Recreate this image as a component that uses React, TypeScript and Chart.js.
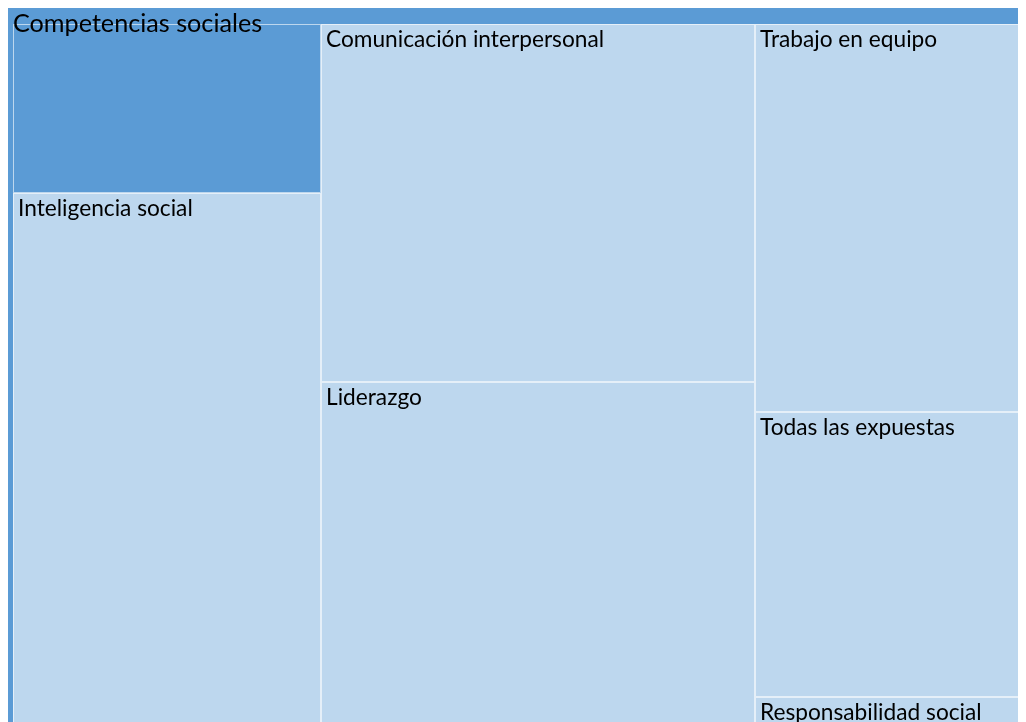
import React, { useEffect, useRef } from "react";
import { Chart, registerables } from "chart.js";
Chart.register(...registerables);

// ---- data ----
const parentLabel = "Competencias sociales";
const parentOwnValue = 6.8;
const categories = [
  "Inteligencia social",
  "Comunicación interpersonal",
  "Liderazgo",
  "Trabajo en equipo",
  "Todas las expuestas",
  "Responsabilidad social",
];
const values = [22.7, 20.4, 21.2, 15.3, 11.2, 2.3];
// column grouping of the treemap (-1 = parent's own share)
const columns = [[-1, 0], [1, 2], [3, 4, 5]];

// ---- styles / geometry of the full treemap (in scale units) ----
const TREE_W = 1052;
const TREE_H = 752;
const CANVAS_W = 1070;
const CANVAS_H = 770;
const VIEW_W = 1018;
const VIEW_H = 714;
const PAD = { left: 5, top: 16, right: 5, bottom: 5 };
const PARENT_COLOR = "#5b9bd5";
const CHILD_COLOR = "#bdd7ee";
const FONT = "Lato";

type R = { x0: number; y0: number; x1: number; y1: number; label: string; own: boolean };

function layout(): R[] {
  const total = parentOwnValue + values.reduce((a, b) => a + b, 0);
  const ix0 = PAD.left, iy0 = PAD.top, ix1 = TREE_W - PAD.right, iy1 = TREE_H - PAD.bottom;
  const W = ix1 - ix0, H = iy1 - iy0;
  const val = (i: number) => (i < 0 ? parentOwnValue : values[i]);
  const out: R[] = [];
  let cx = ix0;
  columns.forEach((col) => {
    const s = col.reduce((a, i) => a + val(i), 0);
    const w = (W * s) / total;
    let cy = iy0;
    col.forEach((i) => {
      const h = (H * val(i)) / s;
      out.push({ x0: cx, y0: cy, x1: cx + w, y1: cy + h, label: i < 0 ? "" : categories[i], own: i < 0 });
      cy += h;
    });
    cx += w;
  });
  return out;
}

const treemapPlugin = {
  id: "treemapDraw",
  afterDatasetsDraw(chart: any) {
    const { ctx, scales } = chart;
    const X = (v: number) => scales.x.getPixelForValue(v);
    const Y = (v: number) => scales.y.getPixelForValue(v);
    ctx.save();
    ctx.fillStyle = PARENT_COLOR;
    ctx.fillRect(X(0), Y(0), X(TREE_W) - X(0), Y(TREE_H) - Y(0));
    const rects = layout();
    rects.forEach((r) => {
      const x0 = Math.round(X(r.x0)), y0 = Math.round(Y(r.y0));
      const x1 = Math.round(X(r.x1)), y1 = Math.round(Y(r.y1));
      ctx.fillStyle = r.own ? PARENT_COLOR : CHILD_COLOR;
      ctx.fillRect(x0, y0, x1 - x0, y1 - y0);
      ctx.strokeStyle = "rgba(255,255,255,0.6)";
      ctx.lineWidth = 1;
      ctx.strokeRect(x0 + 0.5, y0 + 0.5, x1 - x0 - 1, y1 - y0 - 1);
    });
    ctx.fillStyle = "#000";
    ctx.textBaseline = "alphabetic";
    ctx.textAlign = "left";
    rects.forEach((r) => {
      if (!r.label) return;
      ctx.font = `22.7px ${FONT}`;
      ctx.fillText(r.label, Math.round(X(r.x0)) + 5, Math.round(Y(r.y0)) + 23);
    });
    ctx.font = `25.2px ${FONT}`;
    ctx.fillText(parentLabel, X(0) + 5, Y(0) + 24);
    ctx.restore();
  },
};

export default function App() {
  const ref = useRef<HTMLCanvasElement>(null);
  useEffect(() => {
    if (!ref.current) return;
    const chart = new Chart(ref.current, {
      type: "scatter",
      data: { datasets: [{ data: [], pointRadius: 0 }] },
      options: {
        animation: false,
        responsive: false,
        maintainAspectRatio: false,
        layout: { padding: 0 },
        plugins: { legend: { display: false }, tooltip: { enabled: false } },
        scales: {
          x: { type: "linear", min: 0, max: CANVAS_W, display: false },
          y: { type: "linear", min: 0, max: CANVAS_H, reverse: true, display: false },
        },
      },
      plugins: [treemapPlugin],
    });
    return () => chart.destroy();
  }, []);
  return (
    <div style={{ width: VIEW_W, height: VIEW_H, overflow: "hidden" }}>
      <canvas ref={ref} width={CANVAS_W} height={CANVAS_H} style={{ display: "block" }} />
    </div>
  );
}
